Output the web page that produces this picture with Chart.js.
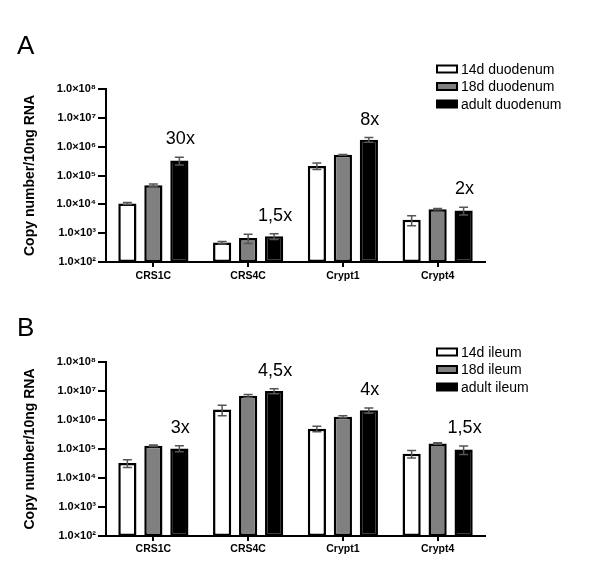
<!DOCTYPE html>
<html>
<head>
<meta charset="utf-8">
<script src="https://cdn.jsdelivr.net/npm/chart.js@4.4.0/dist/chart.umd.min.js"></script>
<style>
  html, body { margin: 0; padding: 0; background: #fff; }
  .panel { position: absolute; left: 0; width: 600px; height: 292px; }
</style>
</head>
<body>
<div class="panel" style="top:0"><canvas id="chartA" width="600" height="292"></canvas></div>
<div class="panel" style="top:292px"><canvas id="chartB" width="600" height="292"></canvas></div>
<script>
const genes = ['CRS1C', 'CRS4C', 'Crypt1', 'Crypt4'];
const yTicks = [1e2, 1e3, 1e4, 1e5, 1e6, 1e7, 1e8];

// A - duodenum (copy number, SEM)
const duoLabels = ['14d duodenum', '18d duodenum', 'adult duodenum'];
const duo14 = [1.07e4, 470, 2.15e5, 2900];
const duo14Sem = [800, 45, 5.5e4, 1100];
const duo18 = [4.6e4, 680, 5.2e5, 6800];
const duo18Sem = [5000, 240, 1.5e4, 300];
const duoAdult = [3.3e5, 780, 1.75e6, 6100];
const duoAdultSem = [1.0e5, 180, 3.2e5, 1800];
const duoFold = ['30x', '1,5x', '8x', '2x'];

// B - ileum
const ileLabels = ['14d ileum', '18d ileum', 'adult ileum'];
const ile14 = [3.3e4, 2.3e6, 5.0e5, 6.9e4];
const ile14Sem = [1.0e4, 9e5, 1.1e5, 2e4];
const ile18 = [1.3e5, 6.8e6, 1.3e6, 1.55e5];
const ile18Sem = [8e3, 8e5, 1e5, 8e3];
const ileAdult = [1.05e5, 1.0e7, 2.15e6, 9.6e4];
const ileAdultSem = [2.5e4, 2e6, 4.5e5, 3.2e4];
const ileFold = ['3x', '4,5x', '4x', '1,5x'];

const FONT = "'Liberation Sans', Arial, sans-serif";
Chart.defaults.font.family = FONT;
Chart.defaults.color = '#000';

const fills = ['#ffffff', '#808080', '#000000'];
const supers = {'0':'⁰','1':'¹','2':'²','3':'³','4':'⁴','5':'⁵','6':'⁶','7':'⁷','8':'⁸','9':'⁹'};

// error bars, fold labels, legend and panel letter
const decor = {
  id: 'decor',
  afterDatasetsDraw(chart, args, opts) {
    const ctx = chart.ctx;
    const y = chart.scales.y;
    ctx.save();
    ctx.strokeStyle = '#555';
    ctx.lineWidth = 1.5;
    chart.data.datasets.forEach((ds, i) => {
      chart.getDatasetMeta(i).data.forEach((bar, j) => {
        const v = ds.data[j], e = ds.sem[j];
        const yt = y.getPixelForValue(v + e);
        const yb = y.getPixelForValue(Math.max(v - e, 101));
        ctx.beginPath();
        ctx.moveTo(bar.x, yt); ctx.lineTo(bar.x, yb);
        ctx.moveTo(bar.x - 4.5, yt); ctx.lineTo(bar.x + 4.5, yt);
        ctx.moveTo(bar.x - 4.5, yb); ctx.lineTo(bar.x + 4.5, yb);
        ctx.stroke();
      });
    });
    // fold change above last bar
    const last = chart.data.datasets.length - 1;
    const lds = chart.data.datasets[last];
    ctx.fillStyle = '#000';
    ctx.font = '18px ' + FONT;
    ctx.textAlign = 'center';
    ctx.textBaseline = 'middle';
    chart.getDatasetMeta(last).data.forEach((bar, j) => {
      const yt = y.getPixelForValue(lds.data[j] + lds.sem[j]);
      ctx.fillText(opts.folds[j], bar.x + 1, yt - 18);
    });
    // legend
    ctx.font = '14px ' + FONT;
    ctx.textAlign = 'left';
    chart.data.datasets.forEach((ds, i) => {
      const cy = opts.legendY + i * 17.5;
      ctx.fillStyle = ds.backgroundColor;
      ctx.fillRect(437, cy - 3.5, 20, 7);
      ctx.strokeStyle = '#000';
      ctx.lineWidth = 2;
      ctx.strokeRect(437, cy - 3.5, 20, 7);
      ctx.fillStyle = '#000';
      ctx.fillText(ds.label, 461, cy + 1);
    });
    // panel letter
    ctx.font = '26px ' + FONT;
    ctx.textBaseline = 'alphabetic';
    ctx.fillText(opts.letter, 17, opts.letterY);
    ctx.restore();
  }
};

function makeChart(id, labels, vals, sems, folds, geo) {
  new Chart(document.getElementById(id), {
    type: 'bar',
    data: {
      labels: genes,
      datasets: labels.map((lab, i) => ({
        label: lab,
        data: vals[i],
        sem: sems[i],
        backgroundColor: fills[i],
        borderColor: '#000',
        borderWidth: 2.5,
        borderSkipped: false,
        categoryPercentage: 0.823,
        barPercentage: 0.7
      }))
    },
    options: {
      responsive: false,
      animation: false,
      layout: { padding: { top: geo.top, right: 115, bottom: geo.bottom, left: 0 } },
      plugins: {
        legend: { display: false },
        tooltip: { enabled: false },
        decor: { folds: folds, legendY: geo.legendY, letter: geo.letter, letterY: geo.letterY }
      },
      scales: {
        x: {
          grid: { display: true, drawOnChartArea: false, offset: false, tickLength: 5, lineWidth: 2, color: '#000' },
          border: { display: true, color: '#000', width: 2 },
          ticks: { font: { size: 10.5, weight: 'bold' }, padding: geo.xPad, maxRotation: 0 },
          afterFit: s => { s.height = 30; }
        },
        y: {
          type: 'logarithmic',
          min: 1e2,
          max: 1e8,
          afterBuildTicks: s => { s.ticks = yTicks.map(v => ({ value: v })); },
          afterFit: s => { s.width = 106; },
          grid: { display: true, drawOnChartArea: false, tickLength: 8, lineWidth: 2, color: '#000' },
          border: { display: true, color: '#000', width: 2 },
          ticks: {
            font: { size: 11, weight: 'bold' },
            padding: 2,
            callback: v => '1.0×10' + String(Math.round(Math.log10(v))).split('').map(c => supers[c]).join('')
          },
          title: {
            display: true,
            text: 'Copy number/10ng RNA',
            font: { size: 14, weight: 'bold' },
            padding: { top: 21.6, bottom: 0 }
          }
        }
      }
    },
    plugins: [decor]
  });
}

makeChart('chartA', duoLabels, [duo14, duo18, duoAdult], [duo14Sem, duo18Sem, duoAdultSem], duoFold,
  { top: 89, bottom: 0, legendY: 69, letter: 'A', letterY: 54, xPad: 3 });
makeChart('chartB', ileLabels, [ile14, ile18, ileAdult], [ile14Sem, ile18Sem, ileAdultSem], ileFold,
  { top: 70, bottom: 18, legendY: 60, letter: 'B', letterY: 44, xPad: 2 });
</script>
</body>
</html>
